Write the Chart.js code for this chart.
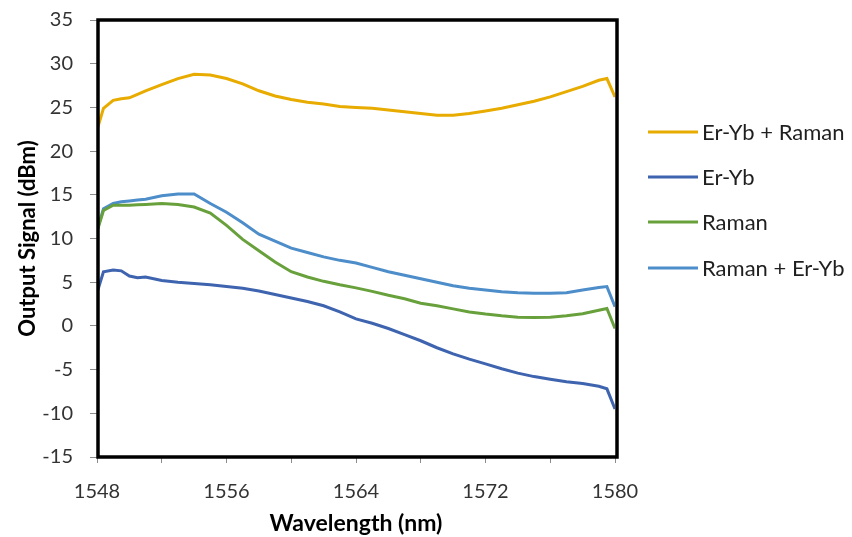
<!DOCTYPE html>
<html>
<head>
<meta charset="utf-8">
<script src="https://cdn.jsdelivr.net/npm/chart.js@4"></script>
<style>
  html, body { margin: 0; padding: 0; background: #fff; }
  #wrap { width: 852px; height: 537px; }
</style>
</head>
<body>
<div id="wrap"><canvas id="grafica" width="852" height="537"></canvas></div>
<script>
// wavelength (nm) sampled along the curves
const wavelengths = [1548, 1548.4, 1549, 1549.5, 1550, 1550.5, 1551, 1552, 1553, 1554, 1555, 1556, 1557, 1558, 1559, 1560,
  1561, 1562, 1563, 1564, 1565, 1566, 1567, 1568, 1569, 1570, 1571, 1572, 1573, 1574, 1575, 1576, 1577, 1578, 1579, 1579.5, 1580]

const erYbRaman = [22.4, 24.9, 25.8, 26.0, 26.1, 26.5, 26.9, 27.6, 28.3, 28.8, 28.7, 28.3, 27.7, 26.9, 26.3, 25.9,
  25.6, 25.4, 25.1, 25.0, 24.9, 24.7, 24.5, 24.3, 24.1, 24.1, 24.3, 24.6, 24.9, 25.3, 25.7, 26.2, 26.8, 27.4, 28.1, 28.3, 26.2]

const erYb = [3.8, 6.2, 6.4, 6.3, 5.7, 5.5, 5.6, 5.2, 5.0, 4.85, 4.7, 4.5, 4.3, 4.0, 3.6, 3.2,
  2.8, 2.3, 1.6, 0.8, 0.3, -0.3, -1.0, -1.7, -2.5, -3.2, -3.8, -4.35, -4.9, -5.4, -5.8, -6.1, -6.4, -6.6, -6.9, -7.2, -9.5]

const raman = [10.8, 13.2, 13.8, 13.8, 13.8, 13.85, 13.9, 14.0, 13.9, 13.6, 12.9, 11.5, 9.9, 8.6, 7.3, 6.2,
  5.6, 5.1, 4.7, 4.35, 3.95, 3.5, 3.1, 2.6, 2.3, 1.95, 1.6, 1.35, 1.15, 1.0, 0.95, 1.0, 1.15, 1.4, 1.8, 2.0, -0.3]

const ramanErYb = [10.9, 13.4, 14.0, 14.2, 14.3, 14.4, 14.5, 14.9, 15.1, 15.1, 14.0, 13.0, 11.8, 10.5, 9.7, 8.9,
  8.4, 7.9, 7.5, 7.2, 6.7, 6.2, 5.8, 5.4, 5.0, 4.6, 4.3, 4.1, 3.9, 3.8, 3.75, 3.75, 3.8, 4.1, 4.4, 4.5, 2.2]

const etiquetas = ["Er-Yb + Raman", "Er-Yb", "Raman", "Raman + Er-Yb"]
const colores = ['#E8AB00', '#3E63AF', '#68A13C', '#4D8DC9']
const series = [erYbRaman, erYb, raman, ramanErYb]

const fuente = 'Lato, "Open Sans", sans-serif'

// marco negro alrededor del area de la grafica + leyenda a la derecha
const marcoYLeyenda = {
  id: 'marcoYLeyenda',
  afterDatasetsDraw(chart) {
    const ctx = chart.ctx
    const a = chart.chartArea
    ctx.save()
    ctx.strokeStyle = '#000'
    ctx.lineWidth = 3.5
    ctx.strokeRect(a.left + 1, a.top, a.right - a.left + 1, a.bottom - a.top)

    ctx.font = '22px ' + fuente
    ctx.textBaseline = 'middle'
    ctx.textAlign = 'left'
    const filas = [132, 177, 222, 268]
    chart.data.datasets.forEach((ds, i) => {
      ctx.strokeStyle = ds.borderColor
      ctx.lineWidth = 3
      ctx.beginPath()
      ctx.moveTo(648, filas[i])
      ctx.lineTo(698, filas[i])
      ctx.stroke()
      ctx.fillStyle = '#1f1f1f'
      ctx.fillText(ds.label, 702, filas[i] + 1)
    })
    ctx.restore()
  }
}

const $grafica = document.querySelector('#grafica')
new Chart($grafica, {
  type: 'line',
  data: {
    datasets: series.map((s, i) => ({
      label: etiquetas[i],
      data: wavelengths.map((w, j) => ({ x: w, y: s[j] })),
      borderColor: colores[i],
      borderWidth: 3,
      pointRadius: 0,
      tension: 0,
      fill: false
    }))
  },
  options: {
    responsive: false,
    animation: false,
    layout: { padding: { top: 20, right: 237, left: 0, bottom: 0 } },
    plugins: { legend: { display: false }, tooltip: { enabled: false } },
    scales: {
      x: {
        type: 'linear',
        min: 1548,
        max: 1580,
        afterFit: (scale) => { scale.height = 80 },
        ticks: {
          stepSize: 4,
          autoSkip: false,
          maxRotation: 0,
          padding: 17,
          color: '#333333',
          font: { family: fuente, size: 20 },
          callback: (v) => ((v - 1548) % 8 === 0 ? v : '')
        },
        grid: { drawOnChartArea: false, drawTicks: true, tickLength: 6, tickColor: '#8c8c8c' },
        border: { display: false },
        title: {
          display: true,
          text: 'Wavelength (nm)',
          color: '#000',
          font: { family: fuente, size: 23, weight: 'bold' },
          padding: { top: 0, bottom: 0 }
        }
      },
      y: {
        min: -15,
        max: 35,
        afterFit: (scale) => {
          scale.width = 97
          scale.paddingTop = 0
          scale.paddingBottom = 0
        },
        ticks: {
          stepSize: 5,
          padding: 17,
          color: '#333333',
          font: { family: fuente, size: 20 }
        },
        grid: { drawOnChartArea: false, drawTicks: true, tickLength: 7, tickColor: '#8c8c8c' },
        border: { display: false },
        title: {
          display: true,
          text: 'Output Signal (dBm)',
          color: '#000',
          font: { family: fuente, size: 22, weight: 'bold' },
          padding: { top: 15, bottom: 0 }
        }
      }
    }
  },
  plugins: [marcoYLeyenda]
})
</script>
</body>
</html>
